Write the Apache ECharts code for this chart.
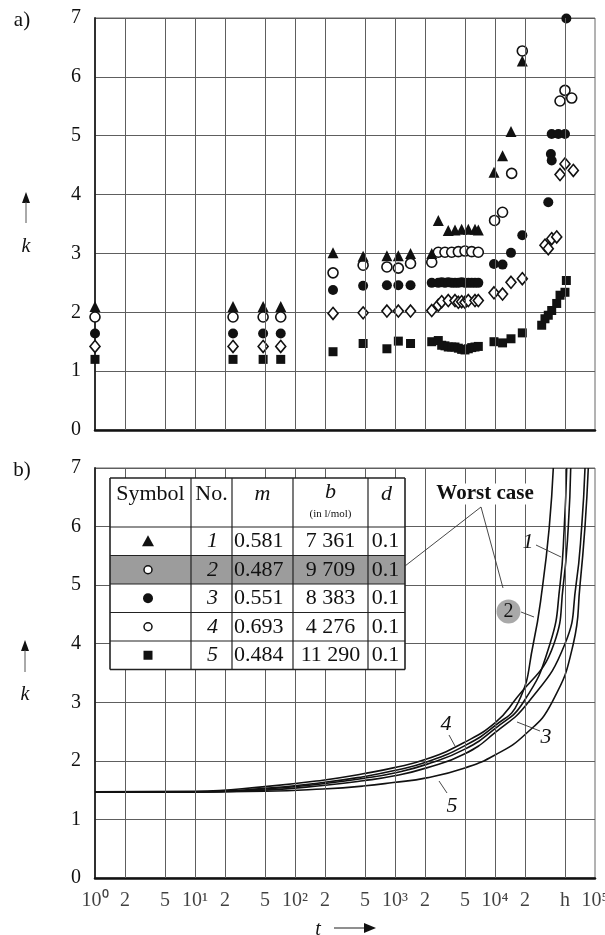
<!DOCTYPE html>
<html><head><meta charset="utf-8">
<script src="https://cdn.jsdelivr.net/npm/echarts@6/dist/echarts.min.js"></script>
<style>html,body{margin:0;padding:0;background:#fff}#c{width:605px;height:935px}</style>
</head><body><div id="c"></div>
<script>
// ---------------- data ----------------
const tickValues = [1,2,5,10,20,50,100,200,500,1000,2000,5000,10000,20000,50000,100000];
const tickLabels = ['10⁰','2','5','10¹','2','5','10²','2','5','10³','2','5','10⁴','2','h','10⁵'];
const kTicks = [0,1,2,3,4,5,6,7];
const kLabels = ['0','1','2','3','4','5','6','7'];

// panel a) measurements [t in h, k]
const measTriangle = [[1,2.1],[24,2.1],[48,2.1],[72,2.1],[240,3.01],[480,2.95],[830,2.96],[1080,2.96],[1430,3.0],[2330,3.0],[2710,3.56],[3410,3.39],[3980,3.4],[4640,3.41],[5410,3.41],[6310,3.41],[6810,3.4],[9770,4.38],[11900,4.66],[14450,5.07],[18750,6.27]];
const measOpenCircle = [[1,1.92],[24,1.92],[48,1.92],[72,1.92],[240,2.67],[480,2.8],[830,2.77],[1080,2.75],[1430,2.83],[2330,2.85],[2710,3.02],[3160,3.02],[3690,3.02],[4300,3.03],[5010,3.04],[5850,3.03],[6810,3.02],[9900,3.56],[11900,3.7],[14680,4.36],[18750,6.44],[44700,5.59],[50100,5.77],[58500,5.64]];
const measFilledCircle = [[1,1.64],[24,1.64],[48,1.64],[72,1.64],[240,2.38],[480,2.45],[830,2.46],[1080,2.46],[1430,2.46],[2330,2.5],[2710,2.5],[2930,2.51],[3160,2.5],[3410,2.51],[3690,2.5],[3980,2.5],[4300,2.5],[4640,2.51],[5010,2.5],[5410,2.5],[5850,2.5],[6310,2.5],[6810,2.5],[9770,2.82],[11900,2.81],[14450,3.01],[18750,3.31],[34100,3.87],[36200,4.69],[36900,4.58],[36900,5.03],[43000,5.03],[50100,5.03],[51700,6.99]];
const measDiamond = [[1,1.42],[24,1.42],[48,1.42],[72,1.42],[240,1.98],[480,1.99],[830,2.02],[1080,2.02],[1430,2.02],[2330,2.03],[2710,2.12],[2930,2.18],[3410,2.2],[3980,2.2],[4300,2.17],[4640,2.18],[5010,2.17],[5410,2.2],[6310,2.2],[6810,2.2],[9770,2.33],[11900,2.31],[14450,2.51],[18750,2.57],[31600,3.14],[34100,3.08],[36900,3.25],[41400,3.28],[44700,4.34],[50100,4.52],[60700,4.41]];
const measSquare = [[1,1.2],[24,1.2],[48,1.2],[72,1.2],[240,1.33],[480,1.47],[830,1.38],[1080,1.51],[1430,1.47],[2330,1.5],[2710,1.52],[2930,1.44],[3160,1.43],[3410,1.41],[3690,1.41],[3980,1.41],[4300,1.39],[4640,1.37],[5010,1.36],[5410,1.38],[5850,1.4],[6310,1.41],[6810,1.42],[9770,1.5],[11900,1.48],[14450,1.55],[18750,1.65],[29300,1.78],[31600,1.89],[34100,1.95],[36900,2.03],[41400,2.15],[44700,2.29],[50100,2.34],[51700,2.54]];

// panel b) model curves [t in h, k]
const curve1 = [[1,1.47],[10,1.47],[50,1.52],[190,1.61],[480,1.70],[960,1.79],[2070,1.94],[5000,2.2],[10000,2.55],[19190,3.0],[35480,4.0],[44670,5.0],[49320,6.0],[52120,7.0]];
const curve2 = [[1,1.47],[10,1.47],[50,1.53],[190,1.63],[480,1.73],[960,1.83],[2070,1.98],[5000,2.26],[10000,2.6],[17100,3.0],[24150,4.0],[30000,5.0],[34920,6.0],[38290,7.0]];
const curve3 = [[1,1.47],[10,1.47],[50,1.5],[190,1.58],[480,1.66],[960,1.74],[2070,1.88],[5000,2.12],[10000,2.48],[21530,3.0],[50120,4.0],[64570,5.0],[73620,6.0],[79430,7.0]];
const curve4 = [[1,1.47],[10,1.48],[50,1.56],[190,1.67],[480,1.78],[960,1.88],[2070,2.03],[5000,2.32],[10000,2.65],[15240,3.0],[38900,4.0],[48190,5.0],[54080,6.0],[57150,7.0]];
const curve5 = [[1,1.47],[10,1.47],[50,1.48],[190,1.52],[480,1.57],[960,1.63],[2070,1.71],[5000,1.88],[10000,2.1],[20000,2.45],[37150,3.0],[60700,4.0],[70790,5.0],[79430,6.0],[85700,7.0]];

// table
const tableHeader = ['Symbol','No.','m','b','d'];
const tableNo = ['1','2','3','4','5'];
const tableM = ['0.581','0.487','0.551','0.693','0.484'];
const tableB = ['7 361','9 709','8 383','4 276','11 290'];
const tableD = ['0.1','0.1','0.1','0.1','0.1'];
const curveLabels = ['1','2','3','4','5'];

// ---------------- chart ----------------
const FONT = '"Liberation Serif", "Times New Roman", serif';
const GRID_C = '#5e5e5e';
const INK = '#111';
const chart = echarts.init(document.getElementById('c'), null, {renderer:'canvas'});

function xAxisCfg(gi){ return {type:'log', logBase:10, min:1, max:100000, gridIndex:gi,
  axisLine:{show:true, onZero:false, lineStyle:{color:INK, width:2.5}}, axisTick:{show:false},
  axisLabel:{show:false}, splitLine:{show:false}}; }
function yAxisCfg(gi){ return {type:'value', min:0, max:7, interval:1, gridIndex:gi,
  axisLine:{show:true, onZero:false, lineStyle:{color:'#222', width:1.8}}, axisTick:{show:false},
  axisLabel:{fontFamily:FONT, fontSize:20, color:INK, margin:14, formatter: v => kLabels[kTicks.indexOf(v)]},
  splitLine:{show:true, lineStyle:{color:GRID_C, width:1}}}; }

function gridSeries(gi, withLabels){
  return {type:'scatter', xAxisIndex:gi, yAxisIndex:gi, z:1, silent:true, symbolSize:1, clip:false,
    itemStyle:{color:'rgba(0,0,0,0)'},
    data: withLabels ? tickValues.map((v,i)=>({value:[v,0], label:{formatter: tickLabels[i]}})) : [[1,0]],
    label:{show:withLabels, position:'bottom', distance:12, fontFamily:FONT, fontSize:20, color:INK},
    markLine:{silent:true, symbol:['none','none'], animation:false, label:{show:false},
      lineStyle:{color:GRID_C, width:1, type:'solid', opacity:1},
      data: tickValues.slice(1,-1).map(v=>({xAxis:v}))}};
}
function meas(data, symbol, size, filled){
  return {type:'scatter', xAxisIndex:0, yAxisIndex:0, z:3, symbol, symbolSize:size, data,
    itemStyle: filled ? {color:INK, opacity:1} : {color:'#fff', borderColor:INK, borderWidth:1.6, opacity:1}};
}
function curve(data){
  return {type:'line', xAxisIndex:1, yAxisIndex:1, z:3, data, showSymbol:false, symbol:'none',
    smooth:0.5, lineStyle:{color:INK, width:1.6}};
}

// ---------- graphic: labels, table, annotations ----------
const G = [];
function txt(x,y,text,o){ o=o||{}; G.push({type:'text', x, y, z:100, style:Object.assign({text, fontFamily:FONT, fontSize:20, fill:INK, align:'center', verticalAlign:'middle'}, o)}); }
function ln(x1,y1,x2,y2,w,c){ G.push({type:'line', z:100, shape:{x1,y1,x2,y2}, style:{stroke:c||INK, lineWidth:w||1}}); }
function arrowUp(x, yTip, yEnd){ G.push({type:'polygon', z:100, shape:{points:[[x,yTip],[x-4,yTip+11],[x+4,yTip+11]]}, style:{fill:INK}}); ln(x,yTip+10,x,yEnd,1,'#555'); }

txt(22,20,'a)',{fontSize:21});
txt(22,470,'b)',{fontSize:21});
arrowUp(26,192,223); txt(26,247,'k',{fontStyle:'italic'});
arrowUp(25,640,672); txt(25,695,'k',{fontStyle:'italic'});
txt(318,930,'t',{fontStyle:'italic'});
ln(334,928,366,928,1.2,'#444');
G.push({type:'polygon', z:100, shape:{points:[[376,928],[364,923],[364,933]]}, style:{fill:INK}});

// table
const TX = [110,191,232,293,368,405];
const TY = [478,527,555.5,584,612.5,641,669.5];
G.push({type:'rect', z:99, shape:{x:TX[0], y:TY[0], width:TX[5]-TX[0], height:TY[6]-TY[0]}, style:{fill:'#fff'}});
G.push({type:'rect', z:99, shape:{x:TX[0], y:TY[2], width:TX[5]-TX[0], height:TY[3]-TY[2]}, style:{fill:'#9c9c9c'}});
TY.forEach((y,i)=>ln(TX[0],y,TX[5],y,(i===0||i===6)?1.6:1.2,'#222'));
TX.forEach((x,i)=>ln(x,TY[0],x,TY[6],(i===0||i===5)?1.6:1.2,'#222'));
const hy = 494;
txt((TX[0]+TX[1])/2, hy, tableHeader[0], {fontSize:22});
txt((TX[1]+TX[2])/2, hy, tableHeader[1], {fontSize:22});
txt((TX[2]+TX[3])/2, hy, tableHeader[2], {fontSize:22, fontStyle:'italic'});
txt((TX[3]+TX[4])/2, hy-2, tableHeader[3], {fontSize:22, fontStyle:'italic'});
txt((TX[3]+TX[4])/2, 514, '(in l/mol)', {fontSize:11});
txt((TX[4]+TX[5])/2, hy, tableHeader[4], {fontSize:22, fontStyle:'italic'});
for (let r=0;r<5;r++){
  const cy = (TY[r+1]+TY[r+2])/2;
  txt((TX[1]+TX[2])/2+1, cy, tableNo[r], {fontSize:22, fontStyle:'italic'});
  txt(TX[2]+2, cy, tableM[r], {fontSize:22, align:'left'});
  txt((TX[3]+TX[4])/2, cy, tableB[r], {fontSize:22});
  txt((TX[4]+TX[5])/2-1, cy, tableD[r], {fontSize:22});
  const sx = 148;
  if (r===0) G.push({type:'polygon', z:100, shape:{points:[[sx,cy-6],[sx-6,cy+5],[sx+6,cy+5]]}, style:{fill:INK}});
  if (r===1) G.push({type:'circle', z:100, shape:{cx:sx,cy,r:4}, style:{fill:'#fff', stroke:INK, lineWidth:1.5}});
  if (r===2) G.push({type:'circle', z:100, shape:{cx:sx,cy,r:5}, style:{fill:INK}});
  if (r===3) G.push({type:'circle', z:100, shape:{cx:sx,cy,r:4}, style:{fill:'#fff', stroke:INK, lineWidth:1.5}});
  if (r===4) G.push({type:'rect', z:100, shape:{x:sx-4.5,y:cy-4.5,width:9,height:9}, style:{fill:INK}});
}

// annotations
txt(485,494,'Worst case',{fontSize:21, fontWeight:'bold', backgroundColor:'#fff', padding:[0,1]});
ln(481,507,405,566,0.9,'#333');
ln(481,507,503,588,0.9,'#333');
G.push({type:'circle', z:100, shape:{cx:508.5,cy:611.5,r:12}, style:{fill:'#a9a9a9'}});
txt(508.5,612,curveLabels[1],{fontSize:20});
ln(521,612,534,617,0.9,'#333');
txt(528,542,curveLabels[0],{fontStyle:'italic', fontSize:22});
ln(536,545,561,557,0.9,'#333');
txt(546,737,curveLabels[2],{fontStyle:'italic', fontSize:22});
ln(540,731,517,722,0.9,'#333');
txt(446,724,curveLabels[3],{fontStyle:'italic', fontSize:22});
ln(449,735,455,746,0.9,'#333');
txt(452,806,curveLabels[4],{fontStyle:'italic', fontSize:22});
ln(447,793,439,781,0.9,'#333');

chart.setOption({
  animation:false,
  backgroundColor:'#fff',
  grid:[{left:95, top:18, width:500, height:412, show:true, borderColor:'#666', borderWidth:1},
        {left:95, top:468, width:500, height:410, show:true, borderColor:'#666', borderWidth:1}],
  xAxis:[xAxisCfg(0), xAxisCfg(1)],
  yAxis:[yAxisCfg(0), yAxisCfg(1)],
  series:[
    gridSeries(0,false), gridSeries(1,true),
    meas(measSquare,'rect',9,true),
    meas(measDiamond,'diamond',[10,12],false),
    meas(measFilledCircle,'circle',10,true),
    meas(measOpenCircle,'circle',10,false),
    meas(measTriangle,'triangle',11,true),
    curve(curve1), curve(curve2), curve(curve3), curve(curve4), curve(curve5)
  ],
  graphic: G
});
</script></body></html>
